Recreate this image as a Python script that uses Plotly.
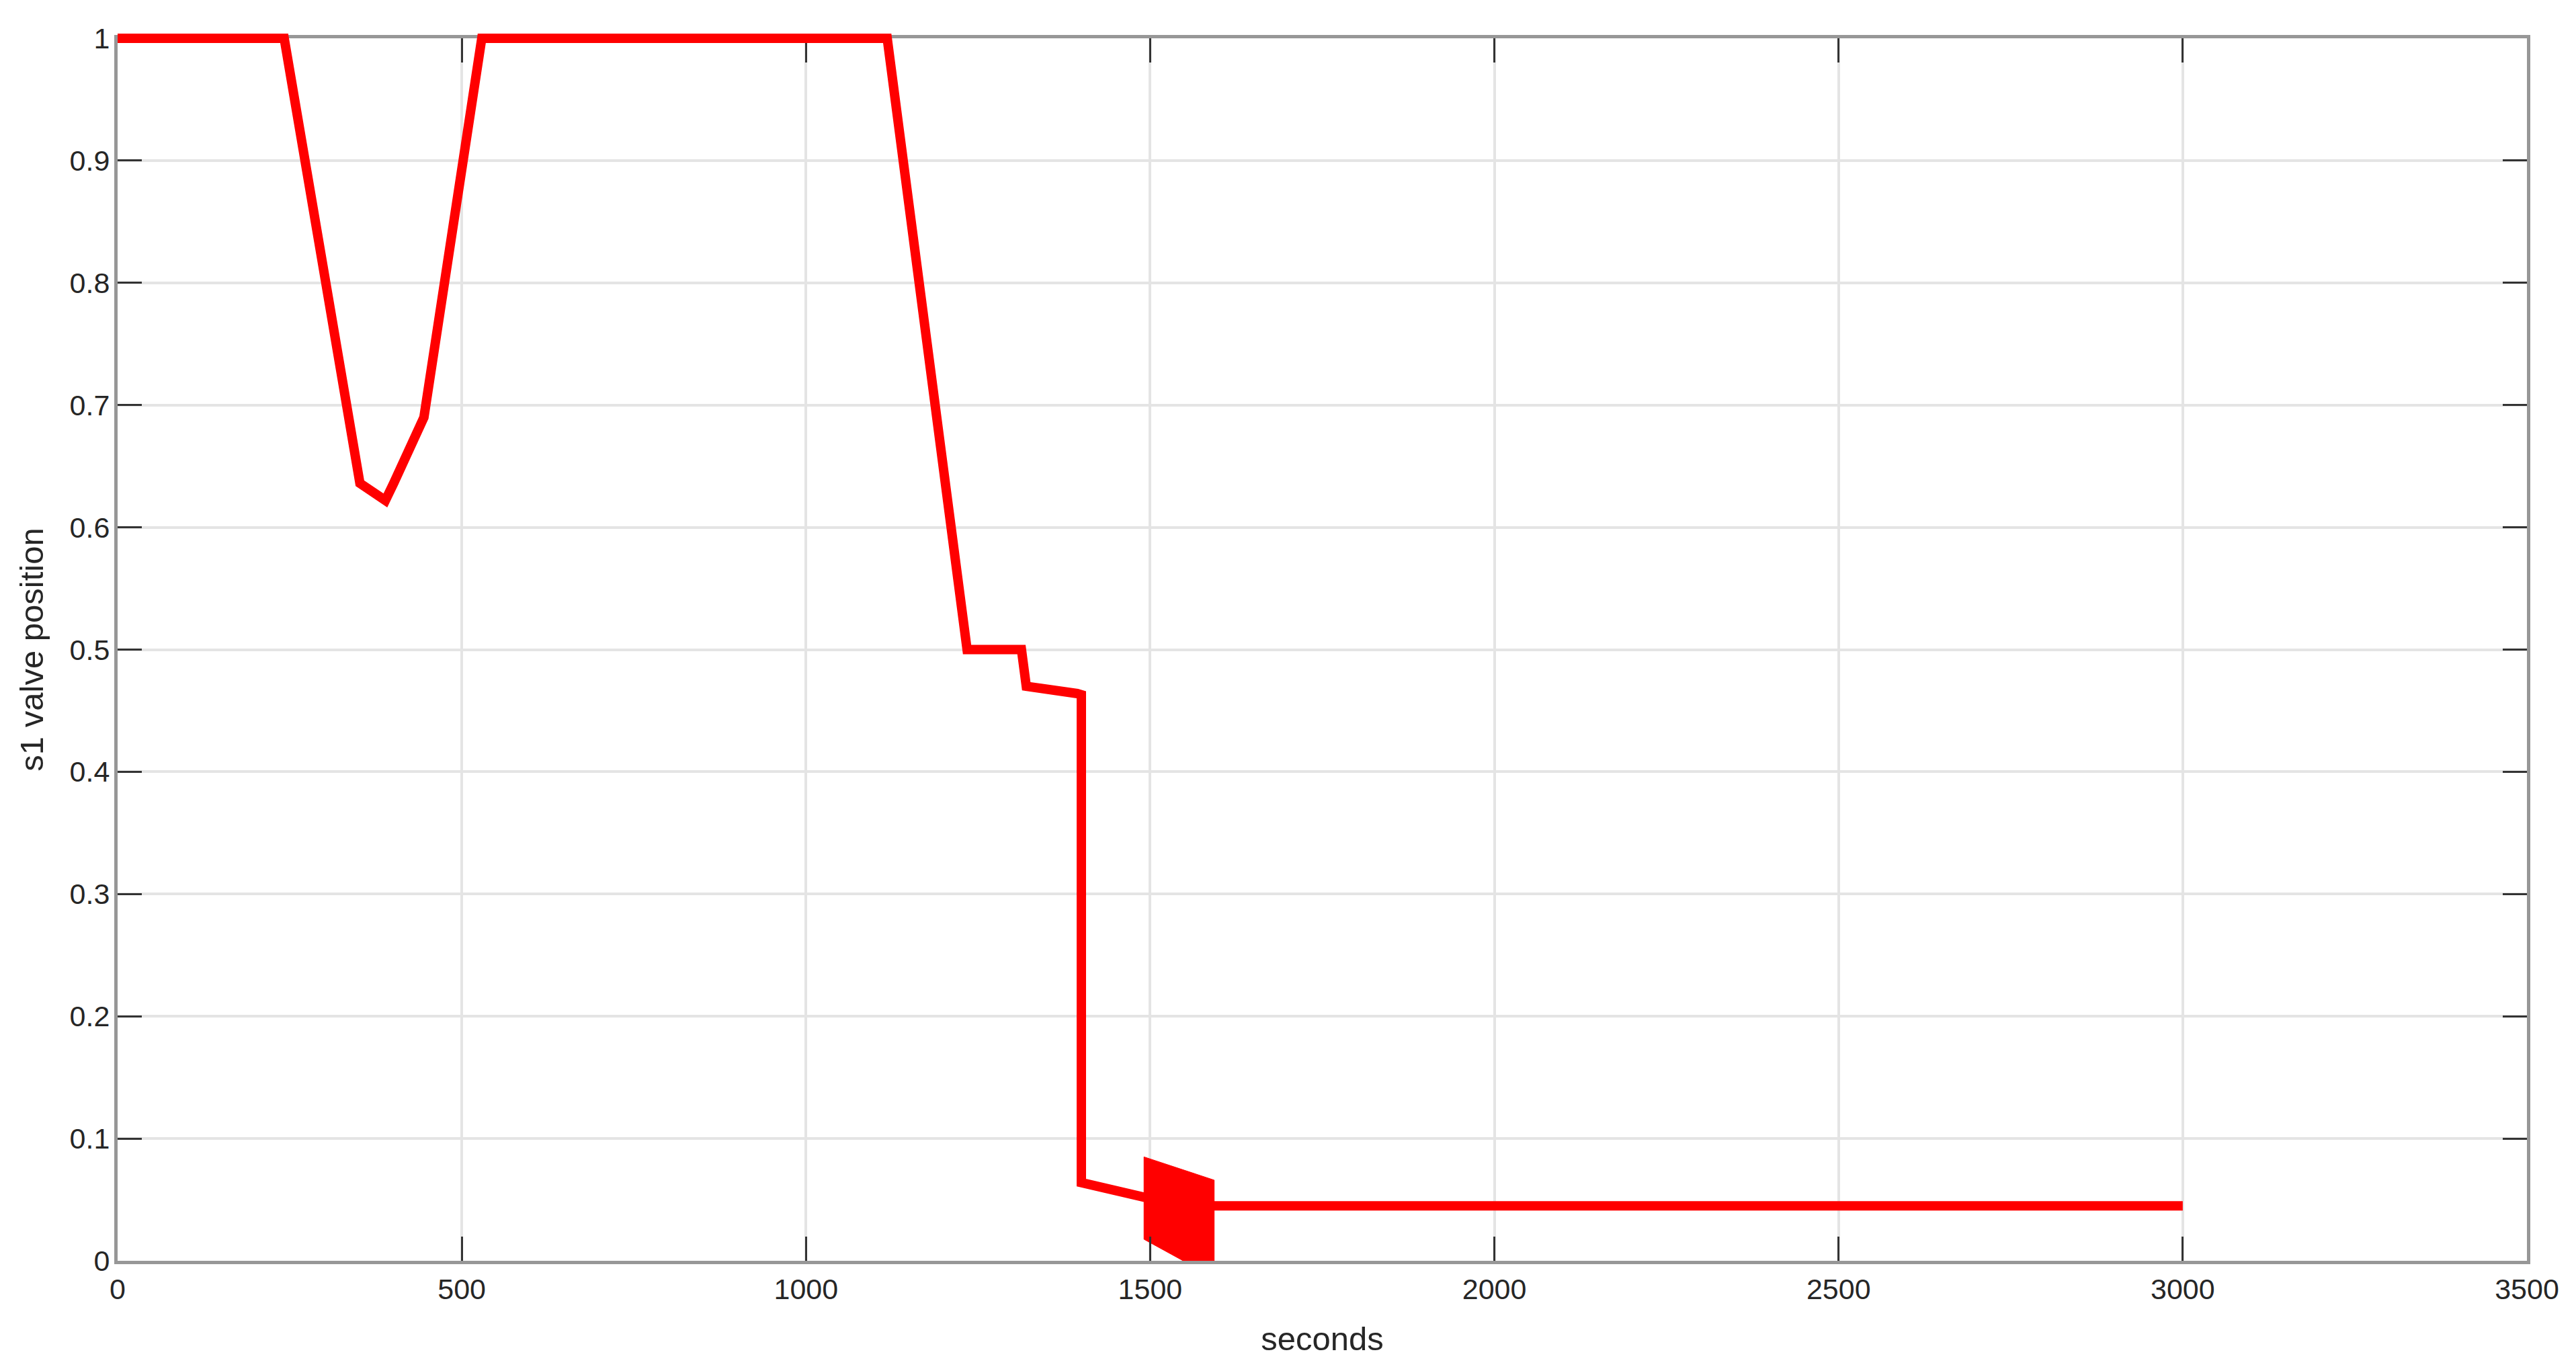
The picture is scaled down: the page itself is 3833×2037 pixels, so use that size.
import plotly.graph_objects as go

# valve trace (time in s, position 0..1)
time_s = [0, 242, 352, 389, 401, 445, 529, 1118, 1234, 1313, 1320, 1370, 1394, 1400, 1400, 1491, 1593, 3000]
valve_pos = [1, 1, 0.636, 0.622, 0.636, 0.69, 1, 1, 0.5, 0.5, 0.47, 0.467, 0.464, 0.463, 0.064, 0.052, 0.045, 0.045]

# the fast oscillation around 1500 s shows up as a solid band: its outline
osc_time = [1491, 1593, 1593, 1548, 1491]
osc_pos = [0.085, 0.066, 0.0, 0.0, 0.0176]

x_ticks = [0, 500, 1000, 1500, 2000, 2500, 3000, 3500]
y_ticks = [0, 0.1, 0.2, 0.3, 0.4, 0.5, 0.6, 0.7, 0.8, 0.9, 1]
y_tick_text = ["0", "0.1", "0.2", "0.3", "0.4", "0.5", "0.6", "0.7", "0.8", "0.9", "1"]

RED = "#ff0000"
FONT = "Liberation Sans, Arial, sans-serif"
INK = "#262626"

W, H = 3833, 2037
M_L, M_R, M_B = 167, 81, 169
AX_TOP = 49          # where the axes box starts (px from top)
PAD_TOP = 24         # extra room above the box so the thick line isn't cut at y=1

plot_h = H - (AX_TOP - PAD_TOP) - M_B
box_h = H - AX_TOP - M_B
y_dom_top = box_h / plot_h

fig = go.Figure()

# oscillation band lives on the main axes (clipped at y=0 like the original)
fig.add_trace(go.Scatter(
    x=osc_time + [osc_time[0]],
    y=osc_pos + [osc_pos[0]],
    mode="lines",
    fill="toself",
    fillcolor=RED,
    line=dict(color=RED, width=1),
    hoverinfo="skip",
))

# the valve line sits on its own, slightly taller subplot (x2/y2) so the
# segments at y=1 stay centred on the top border instead of being cut in half
fig.add_trace(go.Scatter(
    x=time_s,
    y=valve_pos,
    xaxis="x2", yaxis="y2",
    mode="lines",
    line=dict(color=RED, width=14),
    hovertemplate="%{x:.0f} s<br>%{y:.3f}<extra></extra>",
))

axis_common = dict(
    showline=True,
    linecolor="#979797",
    linewidth=5,
    mirror="ticks",
    ticks="inside",
    ticklen=36,
    tickwidth=3,
    tickcolor="#333333",
    showgrid=True,
    gridcolor="#e4e4e4",
    gridwidth=4,
    zeroline=False,
    automargin=False,
    tickfont=dict(family=FONT, size=43, color=INK),
)

fig.update_layout(
    width=W,
    height=H,
    margin=dict(l=M_L, r=M_R, t=AX_TOP - PAD_TOP, b=M_B),
    paper_bgcolor="white",
    plot_bgcolor="rgba(0,0,0,0)",
    showlegend=False,
    xaxis=dict(
        range=[0, 3500],
        domain=[0, 1],
        anchor="y",
        tickvals=x_ticks,
        ticktext=[str(v) for v in x_ticks],
        title=dict(text="seconds", font=dict(family=FONT, size=49, color=INK), standoff=36),
        **axis_common,
    ),
    yaxis=dict(
        range=[0, 1],
        domain=[0, y_dom_top],
        anchor="x",
        tickvals=y_ticks,
        ticktext=y_tick_text,
        ticklabelstandoff=-2,
        title=dict(text="s1 valve position", font=dict(family=FONT, size=49, color=INK), standoff=25),
        **axis_common,
    ),
    xaxis2=dict(range=[0, 3500], domain=[0, 1], anchor="y2", visible=False,
                fixedrange=True, automargin=False),
    yaxis2=dict(range=[0, 1 / y_dom_top], domain=[0, 1], anchor="x2", visible=False,
                fixedrange=True, automargin=False),
)

fig.write_html("out.html")
